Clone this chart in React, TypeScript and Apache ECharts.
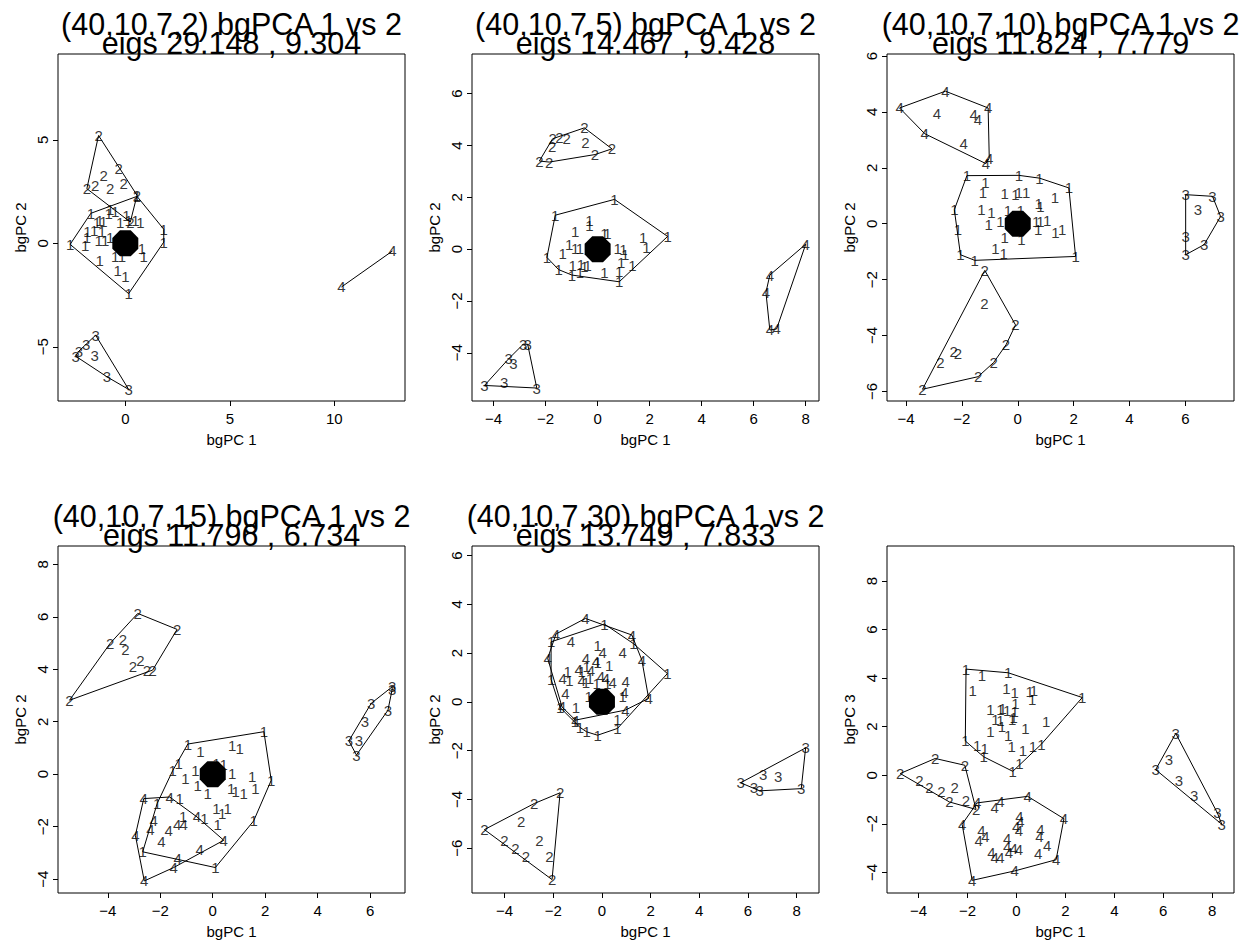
import React, { useEffect, useRef } from "react";
import * as echarts from "echarts";

type Pt = [number, number];

const FONT = '"Liberation Sans", Arial, Helvetica, sans-serif';

// ---- (40,10,7,2) ----
const p1g1: Pt[] = [
  [-2.64, -0.05], [-1.65, 1.45], [0.56, 2.27], [1.84, 0.68], [1.84, 0.06], [0.16, -2.43],
  [-0.72, 1.62], [-0.48, 1.55], [0.05, 1.35], [0.72, 1.03], [-1.23, 1.11], [-1.36, 1.03],
  [-1.05, 1.05], [-1.81, 0.59], [-1.49, 0.63], [-1.12, 0.55], [-1.84, 0.3], [-1.28, 0.14],
  [-1.92, -0.1], [-0.96, 0.14], [-0.72, 0.3], [-0.48, -0.66], [-0.16, -0.66], [0.8, -0.26],
  [0.88, -0.66], [-1.23, -0.85], [-0.37, -1.33], [0.0, -1.62], [0.16, 1.1], [0.48, 1.1],
  [-0.24, 1.03], [-0.8, 1.43],
];
const p1g2: Pt[] = [
  [-1.28, 5.21], [-0.32, 3.6], [-0.08, 2.88], [-1.84, 2.64], [-1.44, 2.8],
  [-1.04, 3.28], [-0.72, 2.64], [0.56, 2.32], [0.24, 1.03],
];
const p1g3: Pt[] = [
  [-1.42, -4.44], [-1.87, -4.87], [-2.22, -5.21], [-2.38, -5.45], [-1.47, -5.4],
  [-0.88, -6.45], [0.16, -7.06],
];
const p1g4: Pt[] = [[10.34, -2.11], [12.78, -0.37]];

// ---- (40,10,7,5) ----
const p2g1: Pt[] = [
  [-1.63, 1.31], [0.65, 1.92], [2.69, 0.49], [0.83, -1.26], [-1.95, -0.32], [-1.5, -0.79],
  [-0.99, -1.0], [-0.86, 0.68], [-0.32, 0.9], [0.26, 0.62], [0.38, 0.62], [-1.09, 0.19],
  [-1.34, -0.15], [-0.86, 0.03], [-0.68, 0.03], [1.75, 0.45], [1.88, 0.06], [0.77, 0.03],
  [0.99, -0.03], [1.06, -0.19], [0.9, -0.51], [1.34, -0.64], [-0.96, -0.64], [-0.64, -0.58],
  [-0.51, -0.68], [-0.38, -0.64], [-0.68, -0.9], [0.26, -0.92], [0.83, -0.87], [-0.19, 0.13],
  [-0.32, 1.1],
];
const p2g2: Pt[] = [
  [-0.51, 4.68], [-1.73, 4.26], [-1.47, 4.29], [-1.19, 4.26], [-1.75, 3.95],
  [-0.47, 4.1], [-2.24, 3.4], [-1.86, 3.36], [-0.1, 3.65], [0.55, 3.87],
];
const p2g3: Pt[] = [
  [-4.35, -5.26], [-3.59, -5.13], [-3.42, -4.23], [-3.24, -4.42], [-2.86, -3.67],
  [-2.69, -3.67], [-2.34, -5.36],
];
const p2g4: Pt[] = [[8.0, 0.19], [6.62, -1.0], [6.47, -1.67], [6.62, -3.12], [6.88, -3.08]];

// ---- (40,10,7,10) ----
const p3g1: Pt[] = [
  [-1.82, 1.72], [0.04, 1.73], [0.78, 1.63], [1.83, 1.28], [2.07, -1.17], [-1.54, -1.31],
  [-2.05, -1.11], [-2.14, -0.21], [-2.27, 0.5], [-1.16, 1.46], [-1.25, 1.1], [-0.47, 1.07],
  [-0.08, 1.04], [0.04, 1.1], [0.3, 1.12], [1.33, 0.95], [0.75, 0.72], [0.81, 0.6],
  [-1.3, 0.5], [-0.94, 0.41], [-0.35, 0.48], [0.1, 0.48], [-1.04, -0.04], [-0.62, 0.08],
  [0.66, 0.08], [0.81, 0.08], [1.05, 0.12], [0.73, -0.21], [1.35, -0.33], [1.59, -0.21],
  [-0.47, -0.51], [0.13, -0.57], [-0.8, -0.87], [-0.5, -1.07],
];
const p3g2: Pt[] = [
  [-1.18, -1.67], [-0.08, -3.62], [-0.42, -4.33], [-0.86, -4.96], [-1.42, -5.47],
  [-3.41, -5.92], [-2.77, -4.96], [-1.19, -2.86], [-2.29, -4.57], [-2.14, -4.63],
];
const p3g3: Pt[] = [
  [6.01, 1.04], [6.97, 0.98], [6.45, 0.5], [7.26, 0.26], [6.01, -0.45], [6.67, -0.75], [6.01, -1.11],
];
const p3g4: Pt[] = [
  [-2.59, 4.74], [-4.23, 4.14], [-2.89, 3.94], [-1.58, 3.9], [-1.43, 3.72],
  [-1.06, 4.14], [-3.33, 3.22], [-1.94, 2.86], [-1.02, 2.35], [-1.14, 2.15],
];

// ---- (40,10,7,15) ----
const p4g1: Pt[] = [
  [-0.95, 1.15], [1.95, 1.62], [2.23, -0.23], [1.56, -1.78], [0.1, -3.56], [-2.67, -2.96],
  [-2.12, -1.12], [-1.53, 0.13], [-1.3, 0.41], [-0.47, 0.85], [0.74, 1.11], [1.03, 0.98],
  [-1.04, -0.17], [-0.66, 0.15], [-0.57, -0.42], [-0.19, -0.74], [0.14, 0.41], [0.42, 0.38],
  [0.74, 0.03], [0.7, -0.55], [0.87, -0.67], [1.18, -0.74], [1.5, -0.08], [1.63, -0.55],
  [-1.26, -0.93], [0.14, -1.31], [0.36, -1.5], [0.57, -1.31], [-0.32, -1.69], [0.19, -1.91],
  [-1.13, -1.63],
];
const p4g2: Pt[] = [
  [-2.86, 6.13], [-1.36, 5.52], [-2.29, 3.97], [-5.46, 2.82], [-3.91, 4.99],
  [-3.42, 5.14], [-3.33, 4.76], [-3.04, 4.12], [-2.76, 4.33], [-2.51, 3.97],
];
const p4g3: Pt[] = [
  [6.84, 3.33], [6.84, 3.23], [6.04, 2.7], [5.8, 2.0], [6.68, 2.44], [5.19, 1.27], [5.57, 1.27], [5.48, 0.73],
];
const p4g4: Pt[] = [
  [-2.63, -0.93], [-1.64, -0.87], [0.42, -2.52], [-2.61, -4.07], [-2.95, -2.33],
  [-2.25, -1.76], [-2.38, -2.11], [-1.68, -2.16], [-1.36, -1.91], [-1.11, -1.91],
  [-1.96, -2.58], [-0.5, -2.88], [-1.34, -3.22], [-1.49, -3.56], [-0.6, -1.63],
];

// ---- (40,10,7,30) ----
const p5g1: Pt[] = [
  [0.1, 3.19], [-2.09, 2.46], [1.29, 2.39], [2.69, 1.16], [-2.09, 0.92], [-1.41, 1.23],
  [-1.34, 0.89], [-0.83, 1.23], [-0.63, 1.44], [-0.18, 2.33], [-0.18, 1.6], [0.3, 1.5],
  [-0.66, 0.78], [-0.49, 0.96], [-0.22, 0.75], [0.23, 0.75], [-0.55, 0.21], [0.85, 0.21],
  [-1.07, -0.23], [-1.72, -0.23], [0.64, -0.73], [0.64, -1.09], [-0.18, -1.37], [-0.63, -1.23],
  [-0.9, -1.05], [-1.11, -0.82],
];
const p5g2: Pt[] = [
  [-1.72, -3.73], [-2.78, -4.17], [-3.32, -4.92], [-4.83, -5.24], [-4.01, -5.7],
  [-3.56, -6.02], [-3.12, -6.33], [-2.57, -5.7], [-2.16, -6.36], [-2.05, -7.29],
];
const p5g3: Pt[] = [
  [8.37, -1.89], [5.7, -3.32], [6.63, -2.97], [7.24, -3.05], [6.25, -3.52], [6.48, -3.65], [8.19, -3.56],
];
const p5g4: Pt[] = [
  [-0.68, 3.42], [-1.89, 2.78], [-1.27, 2.46], [1.23, 2.74], [0.85, 2.01], [1.64, 1.71],
  [-2.23, 1.78], [-0.66, 1.78], [0.03, 2.01], [-0.25, 1.64], [-0.96, 1.33], [-0.45, 1.3],
  [-1.61, 0.96], [-0.83, 0.89], [-0.04, 1.03], [0.16, 0.96], [0.98, 0.82], [0.44, 0.78],
  [-1.5, 0.34], [0.92, 0.37], [1.92, 0.14], [0.96, -0.34], [-1.64, -0.21], [-1.09, -0.75],
];

// ---- bgPC 1 vs bgPC 3 ----
const p6g1: Pt[] = [
  [-2.06, 4.37], [-1.41, 4.12], [-0.34, 4.22], [2.69, 3.2], [-1.79, 3.5], [-0.41, 3.57],
  [-0.07, 3.39], [0.54, 3.43], [0.71, 3.5], [0.64, 3.12], [-0.04, 2.95], [-1.06, 2.71],
  [-0.65, 2.71], [-0.56, 2.75], [-0.38, 2.65], [-0.07, 2.61], [-0.86, 2.29], [-0.65, 2.24],
  [-0.18, 2.29], [-0.11, 2.38], [0.37, 1.92], [1.21, 2.2], [-1.06, 1.79], [-0.59, 2.02],
  [-0.34, 1.65], [-2.09, 1.41], [-1.61, 1.24], [-1.3, 1.1], [-1.34, 0.76], [-0.2, 1.2],
  [0.26, 1.0], [0.67, 1.2], [1.02, 1.28], [0.12, 0.48], [-0.15, 0.16],
];
const p6g2: Pt[] = [
  [-4.75, 0.07], [-3.32, 0.69], [-2.11, 0.41], [-3.97, -0.21], [-3.56, -0.51],
  [-3.07, -0.65], [-2.52, -0.51], [-2.74, -1.1], [-2.06, -1.06], [-1.65, -1.41],
];
const p6g3: Pt[] = [
  [6.51, 1.72], [6.23, 0.65], [5.69, 0.23], [6.64, -0.23], [7.26, -0.82], [8.21, -1.55], [8.39, -2.02],
];
const p6g4: Pt[] = [
  [-1.61, -1.14], [-0.65, -1.1], [-0.89, -1.33], [0.46, -0.87], [1.94, -1.79], [-2.22, -2.02],
  [1.62, -3.48], [-1.81, -4.33], [-0.07, -3.94], [0.12, -1.69], [0.16, -1.92], [-0.01, -2.1],
  [0.1, -2.27], [-1.43, -2.27], [-1.27, -2.51], [-1.54, -2.68], [-0.38, -2.61], [0.98, -2.24],
  [0.94, -2.54], [1.26, -2.88], [-0.38, -2.95], [-0.11, -3.02], [0.1, -3.06], [-1.02, -3.2],
  [-0.89, -3.37], [-0.65, -3.39], [-0.31, -3.2], [0.89, -3.23],
];

const titles = [
  "(40,10,7,2) bgPCA 1 vs 2",
  "(40,10,7,5) bgPCA 1 vs 2",
  "(40,10,7,10) bgPCA 1 vs 2",
  "(40,10,7,15) bgPCA 1 vs 2",
  "(40,10,7,30) bgPCA 1 vs 2",
  "",
];
const eigs = [
  "eigs 29.148 , 9.304",
  "eigs 14.467 , 9.428",
  "eigs 11.824 , 7.779",
  "eigs 11.796 , 6.734",
  "eigs 13.749 , 7.833",
  "",
];

const xTicks1 = [0, 5, 10];
const yTicks1 = [-5, 0, 5];
const xTicks2 = [-4, -2, 0, 2, 4, 6, 8];
const yTicks2 = [-4, -2, 0, 2, 4, 6];
const xTicks3 = [-4, -2, 0, 2, 4, 6];
const yTicks3 = [-6, -4, -2, 0, 2, 4, 6];
const xTicks4 = [-4, -2, 0, 2, 4, 6];
const yTicks4 = [-4, -2, 0, 2, 4, 6, 8];
const xTicks5 = [-4, -2, 0, 2, 4, 6, 8];
const yTicks5 = [-6, -4, -2, 0, 2, 4, 6];
const xTicks6 = [-4, -2, 0, 2, 4, 6, 8];
const yTicks6 = [-4, -2, 0, 2, 4, 6, 8];

const panels = [
  { groups: [p1g1, p1g2, p1g3, p1g4], xr: [-3.22, 13.38], yr: [-7.62, 9.15], xt: xTicks1, yt: yTicks1, yName: "bgPC 2", center: true },
  { groups: [p2g1, p2g2, p2g3, p2g4], xr: [-4.83, 8.51], yr: [-5.86, 7.53], xt: xTicks2, yt: yTicks2, yName: "bgPC 2", center: true },
  { groups: [p3g1, p3g2, p3g3, p3g4], xr: [-4.68, 7.74], yr: [-6.34, 6.07], xt: xTicks3, yt: yTicks3, yName: "bgPC 2", center: true },
  { groups: [p4g1, p4g2, p4g3, p4g4], xr: [-5.9, 7.33], yr: [-4.53, 8.7], xt: xTicks4, yt: yTicks4, yName: "bgPC 2", center: true },
  { groups: [p5g1, p5g2, p5g3, p5g4], xr: [-5.34, 8.92], yr: [-7.84, 6.39], xt: xTicks5, yt: yTicks5, yName: "bgPC 2", center: true },
  { groups: [p6g1, p6g2, p6g3, p6g4], xr: [-5.29, 8.89], yr: [-4.85, 9.44], xt: xTicks6, yt: yTicks6, yName: "bgPC 3", center: false },
];

const COL_LEFT = [58, 472, 887];
const ROW_TOP = [54, 546];
const BOX_W = 347;
const BOX_H = 347;

const OCTAGON =
  "path://M29.3,0L70.7,0L100,29.3L100,70.7L70.7,100L29.3,100L0,70.7L0,29.3Z";

const minus = (v: number) => (v < 0 ? "\u2212" + Math.abs(v) : String(v));

// Convex hull (monotone chain), returned closed for drawing as a polygon.
function closedHull(pts: Pt[]): Pt[] {
  const p = [...pts].sort((a, b) => a[0] - b[0] || a[1] - b[1]);
  if (p.length < 3) return p;
  const cross = (o: Pt, a: Pt, b: Pt) =>
    (a[0] - o[0]) * (b[1] - o[1]) - (a[1] - o[1]) * (b[0] - o[0]);
  const lower: Pt[] = [];
  for (const q of p) {
    while (lower.length >= 2 && cross(lower[lower.length - 2], lower[lower.length - 1], q) <= 0) lower.pop();
    lower.push(q);
  }
  const upper: Pt[] = [];
  for (let i = p.length - 1; i >= 0; i--) {
    const q = p[i];
    while (upper.length >= 2 && cross(upper[upper.length - 2], upper[upper.length - 1], q) <= 0) upper.pop();
    upper.push(q);
  }
  lower.pop();
  upper.pop();
  const h = lower.concat(upper);
  h.push(h[0]);
  return h;
}

function buildOption() {
  const grid: any[] = [];
  const xAxis: any[] = [];
  const yAxis: any[] = [];
  const series: any[] = [];
  const graphic: any[] = [];
  const textStyle = { fontSize: 15, color: "#000", fontFamily: FONT };

  panels.forEach((p, i) => {
    const left = COL_LEFT[i % 3];
    const top = ROW_TOP[Math.floor(i / 3)];
    grid.push({
      left, top, width: BOX_W, height: BOX_H,
      show: true, borderColor: "#000", borderWidth: 1, backgroundColor: "transparent",
    });
    xAxis.push({
      type: "value", gridIndex: i, min: p.xr[0], max: p.xr[1],
      axisLine: { show: false, onZero: false },
      axisTick: { show: true, customValues: p.xt, length: 5, lineStyle: { color: "#000", width: 1 } },
      axisLabel: { customValues: p.xt, formatter: minus, margin: 10, ...textStyle },
      splitLine: { show: false },
      name: "bgPC 1", nameLocation: "middle", nameGap: 31, nameTextStyle: textStyle,
    });
    yAxis.push({
      type: "value", gridIndex: i, min: p.yr[0], max: p.yr[1],
      axisLine: { show: false, onZero: false },
      axisTick: { show: true, customValues: p.yt, length: 5, lineStyle: { color: "#000", width: 1 } },
      axisLabel: { customValues: p.yt, formatter: minus, rotate: 90, margin: 8, ...textStyle },
      splitLine: { show: false },
      name: p.yName, nameLocation: "middle", nameGap: 30, nameTextStyle: textStyle,
    });
    p.groups.forEach((g, k) => {
      series.push({
        type: "line", xAxisIndex: i, yAxisIndex: i, data: closedHull(g),
        symbol: "none", lineStyle: { color: "#000", width: 1 }, silent: true, z: 2,
      });
      series.push({
        type: "scatter", xAxisIndex: i, yAxisIndex: i, data: g, symbolSize: 1,
        itemStyle: { color: "rgba(0,0,0,0)" }, silent: true, z: 3,
        label: { show: true, position: "inside", formatter: String(k + 1), ...textStyle },
      });
    });
    if (p.center) {
      series.push({
        type: "scatter", xAxisIndex: i, yAxisIndex: i, data: [[0, 0]],
        symbol: OCTAGON, symbolSize: 26, itemStyle: { color: "#000", opacity: 1 }, silent: true, z: 4,
      });
    }
    if (titles[i]) {
      const cx = left + BOX_W / 2;
      graphic.push({
        type: "text", x: cx, y: top - 30, z: 10,
        style: { text: titles[i], fontSize: 30.5, fontFamily: FONT, fill: "#000", align: "center", verticalAlign: "middle" },
      });
      graphic.push({
        type: "text", x: cx, y: top - 11, z: 10,
        style: { text: eigs[i], fontSize: 30.5, fontFamily: FONT, fill: "#000", align: "center", verticalAlign: "middle" },
      });
    }
  });

  return {
    animation: false,
    backgroundColor: "#fff",
    grid, xAxis, yAxis, series, graphic,
  };
}

export default function App() {
  const ref = useRef<HTMLDivElement>(null);
  useEffect(() => {
    const chart = echarts.init(ref.current!, null, { renderer: "svg" });
    chart.setOption(buildOption());
    return () => chart.dispose();
  }, []);
  return (
    <div
      ref={ref}
      style={{ position: "absolute", left: 0, top: 0, width: 1249, height: 941 }}
    />
  );
}
